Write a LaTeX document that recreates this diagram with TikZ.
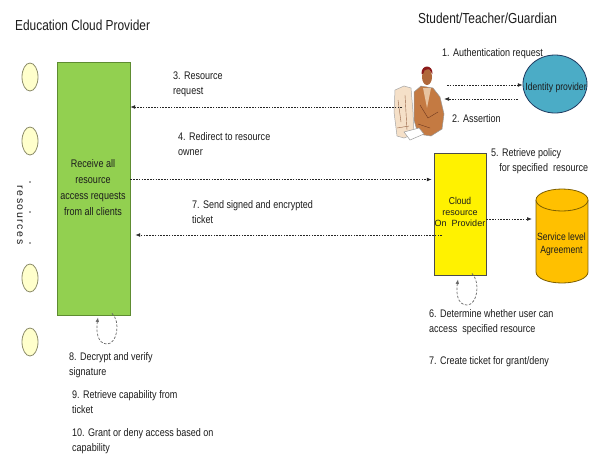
\documentclass[tikz,border=0pt]{standalone}
\usepackage{graphicx}
\usepackage{fontspec}
\setmainfont{Liberation Sans}
\newfontfamily\spacedfont{Liberation Sans}[LetterSpace=15]
\usetikzlibrary{arrows.meta,shapes.geometric,calc}
\newcommand\ntab[2]{\scalebox{0.82}[1]{\begin{tabular}[t]{@{}#1@{}}#2\end{tabular}}}
\newcommand\ctab[2]{\scalebox{0.82}[1]{\begin{tabular}{@{}#1@{}}#2\end{tabular}}}
\definecolor{greenfill}{HTML}{92D050}
\definecolor{greenline}{HTML}{5E8C31}
\definecolor{idpfill}{HTML}{4BACC6}
\definecolor{idpline}{HTML}{1F3A60}
\definecolor{slafill}{HTML}{FFC000}
\definecolor{slaline}{HTML}{7F6000}
\definecolor{resfill}{HTML}{FFFFCC}
\definecolor{resline}{HTML}{8C8C6A}
\definecolor{txt}{HTML}{1C1C1C}
\definecolor{monfill}{HTML}{F5E0C8}
\definecolor{monline}{HTML}{966446}
\definecolor{bodyfill}{HTML}{C47A42}
\definecolor{bodyline}{HTML}{6E371E}
\definecolor{shirt}{HTML}{E8C4A0}
\definecolor{skin}{HTML}{B0683A}
\definecolor{hair}{HTML}{8C1A1A}
\begin{document}
\begin{tikzpicture}[x=1pt,y=-1pt,
  conn/.style={draw=black!85, line width=0.6pt, dash pattern=on 1.6pt off 1.2pt,
    -{Latex[length=4.8pt,width=3.8pt]}},
  loopc/.style={draw=black!60, line width=0.7pt, dash pattern=on 2.5pt off 1.6pt,
    -{Latex[length=4.5pt,width=3.6pt]}},
  lbl/.style={font=\fontsize{11}{15.8}\selectfont, anchor=base west,
    inner sep=0pt, text=txt},
  ttl/.style={font=\fontsize{14.5}{17}\selectfont, anchor=west, inner sep=0pt, text=txt},
  resource/.style={ellipse, draw=resline, fill=resfill, line width=0.8pt,
    minimum width=16pt, minimum height=28pt, inner sep=0pt},
  dotc/.style={circle, fill=black!70, inner sep=0pt, minimum size=1.6pt}]
\useasboundingbox (0,0) rectangle (592,456);
\fill[white] (0,0) rectangle (592,456);

% titles
\node[ttl] (t1) at (15,25) {\scalebox{0.82}[1]{Education Cloud Provider}};
\node[ttl] (t2) at (418,18) {\scalebox{0.82}[1]{Student/Teacher/Guardian}};

% resources
\node[resource] (r1) at (30,77) {};
\node[resource] (r2) at (30,141) {};
\node[resource] (r3) at (30,278) {};
\node[resource] (r4) at (30,342) {};
\node[dotc] (d1) at (30,182) {};
\node[dotc] (d2) at (30,212) {};
\node[dotc] (d3) at (30,243) {};
\node[rotate=-90, font=\spacedfont\fontsize{10.5}{12}\selectfont, text=txt, inner sep=0pt] (rt) at (20,215) {resources};

% green box
\node[draw=greenline, fill=greenfill, line width=0.8pt, minimum width=73pt, minimum height=253pt, inner sep=0pt] (green) at (93.5,188.5) {};
\node[font=\fontsize{11}{16}\selectfont, text=txt, inner sep=0pt] (gt) at (93,188) {\ctab{c}{Receive all\\resource\\access requests\\from all clients}};

% cloud resource box
\node[draw=black!70, fill=yellow, line width=0.8pt, minimum width=52pt, minimum height=122pt, inner sep=0pt] (cloud) at (460,214) {};
\node[align=center, font=\fontsize{9}{11}\selectfont, text=txt, inner sep=0pt] (ct) at (460,212) {{\fontsize{10}{11}\selectfont\scalebox{0.85}[1]{Cloud}}\\resource\\On\ \ Provider};

% cylinder (service level agreement)
\fill[slafill] (536,200) rectangle (588,272);
\fill[slafill] (562,272) ellipse [x radius=26, y radius=11];
\draw[slaline, line width=0.8pt] (536,200) -- (536,272) arc [start angle=180, end angle=0, x radius=26, y radius=11] -- (588,200);
\draw[slaline, fill=slafill, line width=0.8pt] (562,200) ellipse [x radius=26, y radius=11];
\node[minimum width=52pt, minimum height=95pt, inner sep=0pt] (sla) at (562,235.5) {};
\node[font=\fontsize{10.5}{13}\selectfont, text=txt, inner sep=0pt] (st) at (561.5,244) {\ctab{c}{Service level\\Agreement}};

% identity provider
\node[ellipse, draw=idpline, fill=idpfill, line width=0.8pt, minimum width=64pt, minimum height=58pt, inner sep=0pt] (idp) at (555,84) {};
\node[font=\fontsize{10.5}{12}\selectfont, text=txt, inner sep=0pt] (it) at (556,88) {\scalebox{0.82}[1]{Identity provider}};

% user clip art
\node[minimum width=52pt, minimum height=75pt, inner sep=0pt] (user) at (418,102.5) {};
\fill[white] (392,84) -- (405,82) -- (414,86) -- (416,136) -- (403,141) -- (392,138) -- cycle;
\draw[black!35, fill=monfill, line width=0.5pt]
  (395,90) -- (404,86) -- (411,88) -- (413,112) -- (414,134) -- (404,138) -- (397,136) -- (394,112) -- cycle;
\draw[monline, line width=0.4pt] (398,100) -- (401,122) (405,95) -- (407,130) (397,128) -- (409,126);
\draw[black!40, fill=bodyfill, line width=0.5pt]
  (414,92) -- (421,86) -- (433,88) -- (440,97) -- (444,114) -- (442,129) -- (431,136) -- (418,134) -- (414,120) -- cycle;
\fill[shirt] (423,88) -- (431,88) -- (427,108) -- cycle;
\draw[bodyline, line width=0.4pt] (420,105) -- (428,118) -- (438,112) (418,124) -- (430,128);
\fill[skin] (427,77) ellipse [x radius=5, y radius=8];
\fill[hair] (421.5,74) .. controls (421,64) and (433,64) .. (432.5,74) -- (431,72) .. controls (430,68) and (424,68) .. (423,74) -- cycle;
\draw[black!40, fill=white, line width=0.5pt] (404,132) -- (419,128) -- (424,134) -- (410,140) -- cycle;

% connectors
\coordinate (u3) at (402,107);
\draw[conn] (u3) -- (u3 -| green.east);
\coordinate (y4) at (0,179.5);
\draw[conn] (green.east |- y4) -- ([xshift=-2pt]cloud.west |- y4);
\coordinate (s7) at (442,235);
\draw[conn, shorten >=5pt] (s7) -- (s7 -| green.east);
\coordinate (ys) at (0,219);
\draw[conn, shorten >=4pt] (cloud.east |- ys) -- (sla.west |- ys);
\coordinate (a1) at (447,85);
\draw[conn] (a1) -- (a1 -| idp.west);
\coordinate (a2) at (518,99);
\draw[conn] (a2) -- (a2 -| user.east);

% self loops
\draw[loopc] ($(green.south)+(18.5,-2)$) .. controls (121,322) and (117,344) .. (107,344)
  .. controls (97,344) and (96,330) .. ($(green.south)+(4.5,2)$);
\draw[loopc] ($(cloud.south)+(12,-2)$) .. controls (481,283) and (477,305) .. (467,305)
  .. controls (457,305) and (456,292) .. ($(cloud.south)+(-2,4)$);

% labels
\node[lbl] (l3) at (173,79) {\ntab{l}{3. Resource\\request}};
\node[lbl] (l4) at (178,140) {\ntab{l}{4. Redirect to resource\\owner}};
\node[lbl] (l7) at (192,208) {\ntab{l}{7. Send signed and encrypted\\ticket}};
\node[lbl] (l1) at (442,56) {\ntab{l}{1. Authentication request}};
\node[lbl] (l2) at (452,122) {\ntab{l}{2. Assertion}};
\node[lbl] (l5) at (491,156) {\ntab{l}{5. Retrieve policy\\\hspace*{10pt}for specified\ \ resource}};
\node[lbl] (l6) at (429,317) {\ntab{l}{6. Determine whether user can\\access\ \ specified resource}};
\node[lbl] (l7b) at (429,364) {\ntab{l}{7. Create ticket for grant/deny}};
\node[lbl] (l8) at (69,360) {\ntab{l}{8. Decrypt and verify\\signature}};
\node[lbl] (l9) at (72,398) {\ntab{l}{9. Retrieve capability from\\ticket}};
\node[lbl] (l10) at (72,436) {\ntab{l}{10. Grant or deny access based on\\capability}};
\end{tikzpicture}
\end{document}
